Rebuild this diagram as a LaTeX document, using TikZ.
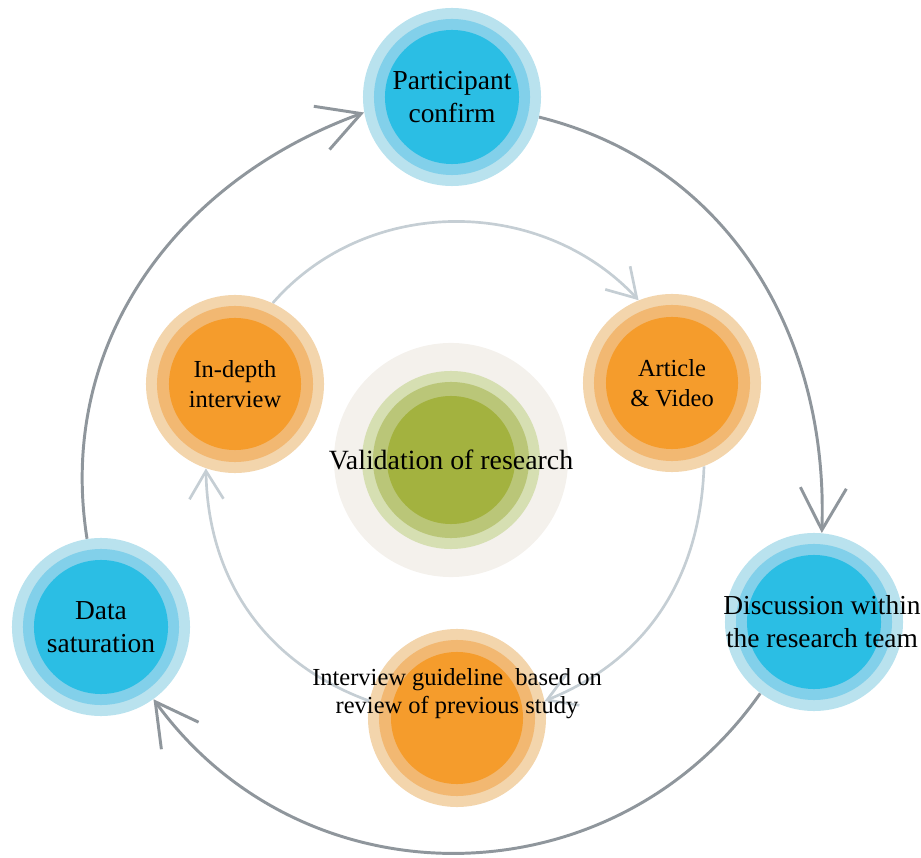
\documentclass[tikz,border=0pt]{standalone}
\usepackage{fontspec}
\setmainfont{Liberation Serif}
\usetikzlibrary{arrows.meta,backgrounds}
\definecolor{bluea}{HTML}{B9E2EE}
\definecolor{blueb}{HTML}{82D0EA}
\definecolor{bluec}{HTML}{2BBEE4}
\definecolor{orangea}{HTML}{F3D5AC}
\definecolor{orangeb}{HTML}{F2B872}
\definecolor{orangec}{HTML}{F59C2C}
\definecolor{beige}{HTML}{F4F1EC}
\definecolor{greena}{HTML}{D6DFB2}
\definecolor{greenb}{HTML}{BAC678}
\definecolor{greenc}{HTML}{A3B23F}
\definecolor{outerline}{HTML}{8F969C}
\definecolor{innerline}{HTML}{C5CED4}
\begin{document}
\begin{tikzpicture}[x=0.025cm, y=0.025cm]
 \tikzstyle{bubble} = [circle, inner sep=0pt, minimum size=4.45cm];
 \tikzstyle{bluebubble} = [bubble, fill=bluea, path picture={
   \fill[blueb] (path picture bounding box.center) circle (1.95cm);
   \fill[bluec] (path picture bounding box.center) circle (1.675cm);}];
 \tikzstyle{orangebubble} = [bubble, fill=orangea, path picture={
   \fill[orangeb] (path picture bounding box.center) circle (1.95cm);
   \fill[orangec] (path picture bounding box.center) circle (1.65cm);}];
 \tikzstyle{greenbubble} = [circle, inner sep=0pt, minimum size=5.85cm, fill=beige, path picture={
   \fill[greena] (path picture bounding box.center) circle (2.225cm);
   \fill[greenb] (path picture bounding box.center) circle (1.95cm);
   \fill[greenc] (path picture bounding box.center) circle (1.6cm);}];
 \tikzstyle{bluetext} = [align=center, font=\fontsize{19.5}{23.5}\selectfont];
 \tikzstyle{orangetext} = [align=center, font=\fontsize{17.4}{21}\selectfont];
 \tikzstyle{outerflow} = [draw=outerline, line width=2.1pt, -{Straight Barb[length=1.05cm, width=1.15cm]}];
 \tikzstyle{innerflow} = [draw=innerline, line width=1.9pt, -{Straight Barb[length=0.7cm, width=0.85cm]}];
\useasboundingbox (0,0) rectangle (921,857);

\node [greenbubble, label={[bluetext, font=\fontsize{19.8}{24}\selectfont]center:Validation of research}] (val) at (451,397) {};

\node [bluebubble, label={[bluetext]center:Participant\\confirm}] (pc) at (452,760) {};
\node [bluebubble, label={[bluetext, xshift=0.2cm]center:Discussion within\\the research team}] (dis) at (814,235) {};
\node [bluebubble, label={[bluetext]center:Data\\saturation}] (ds) at (101,230) {};

\node [orangebubble, label={[orangetext]center:In-depth\\interview}] (idi) at (235,473) {};
\node [orangebubble, label={[orangetext]center:Article\\\& Video}] (av) at (672,474) {};
\node [orangebubble, label={[orangetext, font=\fontsize{17.4}{20}\selectfont, yshift=0.6cm]center:Interview guideline~ based on\\review of previous study}] (ig) at (457,139) {};

\begin{scope}[on background layer]
\draw [outerflow] (ds.99) to [out=99, in=200] (pc.190);
\draw [outerflow] (pc.-13) to [out=-14, in=88] (dis.85);
\draw [outerflow] (dis.233) to [out=235, in=-54, looseness=1.08] (ds.306);

\draw [innerflow] (idi.65) to [out=49, in=133] (av.112);
\draw [innerflow] (av.291) to [out=268, in=22] (ig.11);
\draw [innerflow] (ig.169) to [out=160, in=271] (idi.251);
\end{scope}

\end{tikzpicture}
\end{document}
